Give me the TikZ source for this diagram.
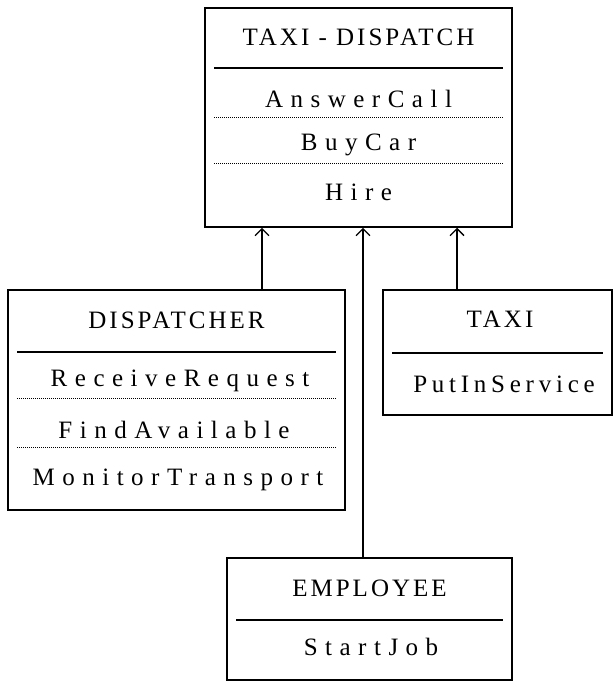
\documentclass[tikz,border=0pt]{standalone}
\usepackage{fontspec}
\setmainfont{Liberation Serif}
\newfontfamily\titlefont[LetterSpace=12]{Liberation Serif}
\newfontfamily\opfont[LetterSpace=30]{Liberation Serif}
\usetikzlibrary{arrows.meta}
\tikzset{
    classbox/.style={draw, line width=1.5pt, inner sep=0pt},
    classname/.style={font=\titlefont\fontsize{25}{29}\selectfont},
    op/.style={font=\opfont\fontsize{25}{29}\selectfont},
    namesep/.style={line width=2.6pt},
    opsep/.style={line width=0.8pt, dash pattern=on 0.8pt off 1.2pt},
    inherits/.style={-{Straight Barb[length=7pt,width=14pt]}, line width=1.4pt},
}

\begin{document}
\begin{tikzpicture}[x=1pt, y=-1pt]
    \useasboundingbox (0,0) rectangle (615,683);

    % class boxes
    \node[classbox, minimum width=307pt, minimum height=219pt] (td) at (358.5,117.5) {};
    \node[classbox, minimum width=337pt, minimum height=220pt] (disp) at (176.5,400) {};
    \node[classbox, minimum width=229pt, minimum height=125pt] (taxi) at (497.5,352.5) {};
    \node[classbox, minimum width=285pt, minimum height=122pt] (emp) at (369.5,619) {};

    % TAXI-DISPATCH
    \node[classname] (tdname) at (358.5,37) {TAXI - DISPATCH};
    \draw[namesep] (214,68) -- (503,68);
    \node[op] (answercall) at (358.5,99) {AnswerCall};
    \node[op] (buycar) at (358.5,145) {BuyCar};
    \node[op] (hire) at (358.5,192) {Hire};
    \foreach \y in {117,163}
        \draw[opsep] (214,\y) -- (503,\y);

    % DISPATCHER
    \node[classname] (dispname) at (176.5,320) {DISPATCHER};
    \draw[namesep] (17,352) -- (336,352);
    \node[op] (receive) at (180,381) {ReceiveRequest};
    \node[op] (findavail) at (174,430) {FindAvailable};
    \node[op] (monitor) at (178,480) {MonitorTransport};
    \foreach \y in {398,447}
        \draw[opsep] (17,\y) -- (336,\y);

    % TAXI
    \node[classname] (taxiname) at (500,319) {TAXI};
    \draw[namesep] (392,353) -- (603,353);
    \node[op] (putinservice) at (504,384) {\addfontfeature{LetterSpace=19}PutInService};

    % EMPLOYEE
    \node[classname] (empname) at (369.5,588) {EMPLOYEE};
    \draw[namesep] (236,620) -- (503,620);
    \node[op] (startjob) at (371,647) {StartJob};

    % inheritance
    \coordinate (d1) at (262,290);
    \coordinate (t1) at (457,290);
    \coordinate (e1) at (363,558);
    \draw[inherits] (d1) -- (d1 |- td.south);
    \draw[inherits] (e1) -- (e1 |- td.south);
    \draw[inherits] (t1) -- (t1 |- td.south);
\end{tikzpicture}
\end{document}
